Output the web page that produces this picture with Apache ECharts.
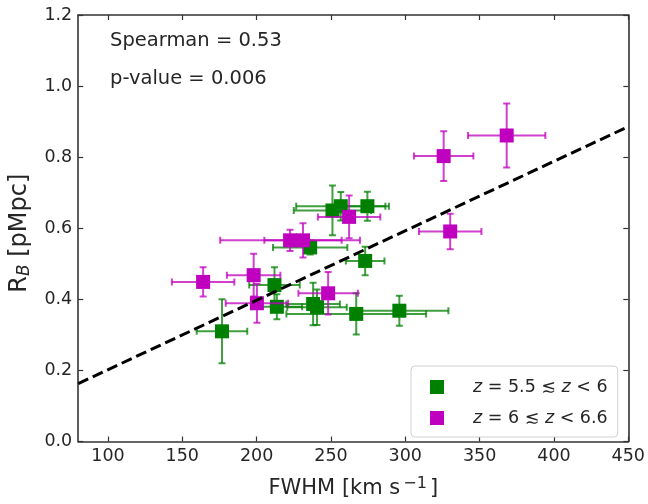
<!DOCTYPE html>
<html>
<head>
<meta charset="utf-8">
<script src="https://cdn.jsdelivr.net/npm/echarts@6/dist/echarts.min.js"></script>
<style>html,body{margin:0;padding:0;background:#fff}#c{width:648px;height:504px}</style>
</head>
<body>
<div id="c"></div>
<script>
// ---- data ----
const xTicks = [100, 150, 200, 250, 300, 350, 400, 450];
const yTicks = [0.0, 0.2, 0.4, 0.6, 0.8, 1.0, 1.2];

const greenX    = [176.7, 212.0, 213.6, 238.0, 240.6, 267.0, 296.0, 273.0, 236.0, 251.0, 256.6, 274.5];
const greenY    = [0.310, 0.440, 0.379, 0.387, 0.378, 0.359, 0.368, 0.508, 0.546, 0.650, 0.662, 0.662];
const greenXErr = [17, 17, 17, 18, 20, 47, 33, 13, 25, 26, 30, 14.5];
const greenYErr = [0.09, 0.05, 0.035, 0.06, 0.05, 0.058, 0.042, 0.04, 0.02, 0.07, 0.04, 0.041];

const magX    = [164.0, 198.0, 200.2, 248.1, 222.5, 231.2, 262.2, 325.8, 368.2, 330.2];
const magY    = [0.449, 0.468, 0.389, 0.417, 0.566, 0.566, 0.632, 0.803, 0.861, 0.591];
const magXErr = [21, 18, 21, 20, 47, 26, 21, 20, 26, 21];
const magYErr = [0.041, 0.06, 0.055, 0.06, 0.03, 0.048, 0.06, 0.07, 0.09, 0.05];

const fitX = [80, 450];
const fitY = [0.163, 0.886];

const greenName = 'green';
const magName = 'magenta';

// ---- chart ----
const FONT = 'DejaVu Sans';
const TXT = '#262626';
const chart = echarts.init(document.getElementById('c'), null, {renderer: 'canvas'});

function errRender(color) {
  return function (params, api) {
    const x = api.value(0), y = api.value(1), xe = api.value(2), ye = api.value(3);
    const l = api.coord([x - xe, y]), r = api.coord([x + xe, y]);
    const b = api.coord([x, y - ye]), t = api.coord([x, y + ye]);
    const cap = 3.5;
    const st = {stroke: color, lineWidth: 2, opacity: 0.75};
    const L = (x1, y1, x2, y2) => ({type: 'line', shape: {x1, y1, x2, y2}, style: st});
    return {type: 'group', children: [
      L(l[0], l[1], r[0], r[1]),
      L(b[0], b[1], t[0], t[1]),
      L(l[0], l[1] - cap, l[0], l[1] + cap),
      L(r[0], r[1] - cap, r[0], r[1] + cap),
      L(b[0] - cap, b[1], b[0] + cap, b[1]),
      L(t[0] - cap, t[1], t[0] + cap, t[1])
    ]};
  };
}

const gData = greenX.map((x, i) => [x, greenY[i], greenXErr[i], greenYErr[i]]);
const mData = magX.map((x, i) => [x, magY[i], magXErr[i], magYErr[i]]);

const axisLineStyle = {color: '#333', width: 1.6};
const tickStyle = {show: true, inside: true, length: 5, lineStyle: {color: '#333', width: 1.2}};

chart.setOption({
  animation: false,
  backgroundColor: '#fff',
  textStyle: {fontFamily: FONT},
  grid: {left: 77, right: 17, top: 15, bottom: 61, containLabel: false},
  xAxis: [{
    type: 'value', min: 80, max: 450, position: 'bottom',
    name: '{n|FWHM [km s}{sup|−1}{n|]}', nameLocation: 'middle', nameGap: 34,
    nameTextStyle: {fontFamily: FONT, fontSize: 21, color: TXT, rich: {
      n: {fontFamily: FONT, fontSize: 21, color: TXT},
      sup: {fontFamily: FONT, fontSize: 16, color: TXT, padding: [0, 3, 10, 3]}
    }},
    axisLine: {show: true, onZero: false, lineStyle: axisLineStyle},
    axisTick: Object.assign({customValues: xTicks}, tickStyle),
    axisLabel: {customValues: xTicks, fontFamily: FONT, fontSize: 17.5, color: TXT, margin: 6},
    splitLine: {show: false}
  }, {
    type: 'value', min: 80, max: 450, position: 'top',
    axisLine: {show: true, onZero: false, lineStyle: axisLineStyle},
    axisTick: Object.assign({customValues: xTicks}, tickStyle),
    axisLabel: {show: false},
    splitLine: {show: false}
  }],
  yAxis: [{
    type: 'value', min: 0, max: 1.2, interval: 0.2, position: 'left',
    name: '{r|R}{s|B} {r|[pMpc]}', nameLocation: 'middle', nameGap: 39, nameRotate: 90,
    nameTextStyle: {fontFamily: FONT, fontSize: 24, color: TXT, padding: [0, 10, 0, 0], rich: {
      r: {fontFamily: FONT, fontSize: 24, color: TXT},
      s: {fontFamily: FONT, fontSize: 17, fontStyle: 'italic', color: TXT, padding: [10, 0, 0, 0]}
    }},
    axisLine: {show: true, onZero: false, lineStyle: axisLineStyle},
    axisTick: tickStyle,
    axisLabel: {fontFamily: FONT, fontSize: 17.5, color: TXT, margin: 6, formatter: v => v.toFixed(1)},
    splitLine: {show: false}
  }, {
    type: 'value', min: 0, max: 1.2, interval: 0.2, position: 'right',
    axisLine: {show: true, onZero: false, lineStyle: axisLineStyle},
    axisTick: tickStyle,
    axisLabel: {show: false},
    splitLine: {show: false}
  }],
  legend: {
    orient: 'vertical', left: 411, top: 366,
    padding: [12, 10, 10, 19], itemGap: 13,
    itemWidth: 14, itemHeight: 14, icon: 'rect',
    backgroundColor: '#fff', borderColor: '#d0d0d0', borderWidth: 1, borderRadius: 4,
    data: [greenName, magName],
    formatter: function (n) {
      return n === greenName ? '{i|z} = 5.5 ≲ {i|z} < 6' : '{i|z} = 6 ≲ {i|z} < 6.6';
    },
    textStyle: {fontFamily: FONT, fontSize: 17.5, color: TXT, padding: [0, 0, 0, 24], rich: {
      i: {fontFamily: FONT, fontSize: 17.5, fontStyle: 'italic', color: TXT}
    }}
  },
  graphic: [
    {type: 'text', left: 110, top: 31, style: {text: 'Spearman = 0.53', font: '19.5px "DejaVu Sans"', fill: TXT}},
    {type: 'text', left: 110, top: 69, style: {text: 'p-value = 0.006', font: '19.5px "DejaVu Sans"', fill: TXT}}
  ],
  series: [
    {type: 'custom', name: 'gerr', renderItem: errRender('#008000'), data: gData, z: 2,
     encode: {x: 0, y: 1}, clip: true, silent: true},
    {type: 'scatter', name: greenName, data: gData.map(d => [d[0], d[1]]), symbol: 'rect', symbolSize: 14,
     itemStyle: {color: '#008000', opacity: 1}, z: 3},
    {type: 'custom', name: 'merr', renderItem: errRender('#bf00bf'), data: mData, z: 4,
     encode: {x: 0, y: 1}, clip: true, silent: true},
    {type: 'scatter', name: magName, data: mData.map(d => [d[0], d[1]]), symbol: 'rect', symbolSize: 14,
     itemStyle: {color: '#bf00bf', opacity: 1}, z: 5},
    {type: 'line', name: 'fit', data: fitX.map((x, i) => [x, fitY[i]]), symbol: 'none', z: 6,
     lineStyle: {color: '#000', width: 3, type: [11, 5]}, clip: true}
  ]
});
</script>
</body>
</html>
